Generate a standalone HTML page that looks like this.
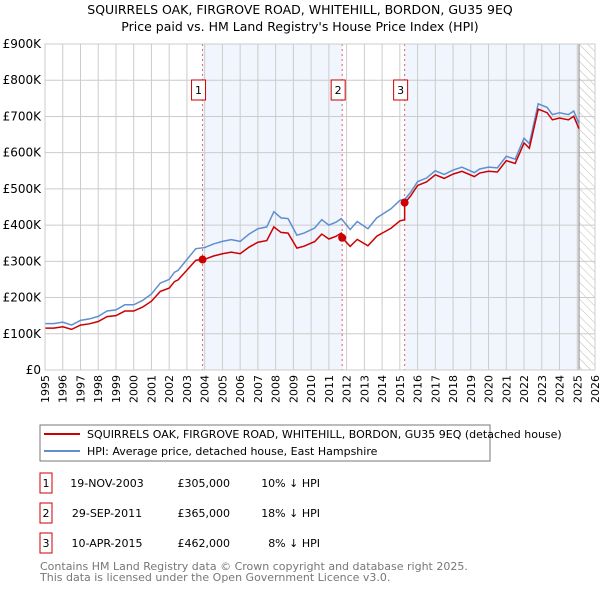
<!DOCTYPE html>
<html><head><meta charset="utf-8"><style>
body{margin:0;background:#fff;font-family:"Liberation Sans","DejaVu Sans",sans-serif}
svg text{font-family:"DejaVu Sans","Liberation Sans",sans-serif}
</style></head><body>
<svg id="c" width="600" height="590">
<defs><pattern id="hatch" width="6" height="6" patternUnits="userSpaceOnUse" patternTransform="rotate(-45)"><line x1="0" y1="0" x2="0" y2="6" stroke="#bbb" stroke-width="1"/></pattern></defs>
<text x="300" y="14" text-anchor="middle" font-size="12.5">SQUIRRELS OAK, FIRGROVE ROAD, WHITEHILL, BORDON, GU35 9EQ</text>
<text x="300" y="31" text-anchor="middle" font-size="12.5">Price paid vs. HM Land Registry's House Price Index (HPI)</text>
<g id="plot"></g>
<rect x="40" y="425" width="450" height="36" fill="#fff" stroke="#777"/>
<line x1="44" y1="434" x2="80" y2="434" stroke="#cc0000" stroke-width="2"/>
<text x="87" y="438" font-size="11">SQUIRRELS OAK, FIRGROVE ROAD, WHITEHILL, BORDON, GU35 9EQ (detached house)</text>
<line x1="44" y1="451" x2="80" y2="451" stroke="#5f8fd0" stroke-width="2"/>
<text x="87" y="455" font-size="11">HPI: Average price, detached house, East Hampshire</text>
<g id="tbl" font-size="11"></g>
<text x="40" y="570" font-size="11" fill="#777">Contains HM Land Registry data © Crown copyright and database right 2025.</text>
<text x="40" y="581" font-size="11" fill="#777">This data is licensed under the Open Government Licence v3.0.</text>
</svg>
<script>
const hpiYears=[1995,1995.5,1996,1996.5,1997,1997.5,1998,1998.5,1999,1999.5,2000,2000.5,2001,2001.5,2002,2002.3,2002.5,2003,2003.5,2004,2004.5,2005,2005.5,2006,2006.5,2007,2007.5,2007.9,2008.3,2008.7,2009.2,2009.6,2010.2,2010.6,2011,2011.4,2011.7,2012.2,2012.6,2013.2,2013.7,2014.5,2015,2015.3,2015.6,2016,2016.5,2017,2017.5,2018,2018.5,2019.2,2019.5,2020,2020.5,2021,2021.5,2022,2022.3,2022.8,2023.3,2023.6,2024,2024.5,2024.8,2025.1];
const hpiValues=[128,128,132,124,137,141,148,163,166,180,180,192,210,240,250,270,275,305,335,338,348,355,360,355,375,390,395,437,420,418,372,378,392,415,400,408,418,388,410,390,420,445,468,472,490,520,530,550,540,552,560,545,555,560,558,590,582,640,625,735,725,705,710,705,715,680];
const saleYears=[2003.88,2011.75,2015.27];
const salePrices=[305,365,462];
const saleLabels=['1','2','3'];
const saleDates=['19-NOV-2003','29-SEP-2011','10-APR-2015'];
const salePriceText=['£305,000','£365,000','£462,000'];
const saleDiffs=['10% ↓ HPI','18% ↓ HPI','8% ↓ HPI'];
const yTicks=[0,100,200,300,400,500,600,700,800,900];
const yTickLabels=['£0','£100K','£200K','£300K','£400K','£500K','£600K','£700K','£800K','£900K'];
const NS='http://www.w3.org/2000/svg';
const X0=45,X1=595,Y0=370,Y1=44,T0=1995,T1=2026,V1=900;
const xs=t=>X0+(t-T0)/(T1-T0)*(X1-X0);
const ys=v=>Y0-v/V1*(Y0-Y1);
const g=document.getElementById('plot');
function mk(tag,attrs,parent){const e=document.createElementNS(NS,tag);for(const k in attrs)e.setAttribute(k,attrs[k]);(parent||g).appendChild(e);return e;}
function hpiAt(t){for(let i=1;i<hpiYears.length;i++){if(t<=hpiYears[i]){const f=(t-hpiYears[i-1])/(hpiYears[i]-hpiYears[i-1]);return hpiValues[i-1]+f*(hpiValues[i]-hpiValues[i-1]);}}return hpiValues[hpiValues.length-1];}
let r=mk('rect',{x:xs(saleYears[0]),y:Y1,width:xs(saleYears[1])-xs(saleYears[0]),height:Y0-Y1,fill:'#eef3fc',opacity:0.8});

const lastT=hpiYears[hpiYears.length-1];
r=mk('rect',{x:xs(saleYears[2]),y:Y1,width:xs(lastT)-xs(saleYears[2]),height:Y0-Y1,fill:'#eef3fc',opacity:0.8});

r=mk('rect',{x:xs(lastT),y:Y1,width:X1-xs(lastT),height:Y0-Y1,fill:'url(#hatch)'});

for(let t=T0;t<=T1;t++){let l=mk('line',{x1:xs(t),x2:xs(t),y1:Y1,y2:Y0,stroke:'#ccc','stroke-width':1});

let tx=mk('text',{x:0,y:0,'font-size':11,'text-anchor':'end',transform:`translate(${xs(t)+4},${Y0+5}) rotate(-90)`});tx.textContent=t;
}
yTicks.forEach((v,i)=>{let l=mk('line',{x1:X0,x2:X1,y1:ys(v),y2:ys(v),stroke:'#ccc','stroke-width':1});

let tx=mk('text',{x:X0-4,y:ys(v)+4,'font-size':12,'text-anchor':'end'});tx.textContent=yTickLabels[i];
});
let vl=mk('line',{x1:xs(lastT),x2:xs(lastT),y1:Y1,y2:Y0,stroke:'#888','stroke-width':1});

saleYears.forEach((t,i)=>{let l=mk('line',{x1:xs(t),x2:xs(t),y1:Y1,y2:Y0,stroke:'#e06060','stroke-width':1,'stroke-dasharray':'2,3'});

let b=mk('rect',{x:xs(t)-11,y:80,width:14,height:20,fill:'#fff',stroke:'#cc0000'});

let tx=mk('text',{x:xs(t)-4,y:94,'font-size':11,'text-anchor':'middle'});tx.textContent=saleLabels[i];
});
let hp=hpiYears.map((t,i)=>xs(t)+','+ys(hpiValues[i])).join(' ');
let hl=mk('polyline',{points:hp,fill:'none',stroke:'#5f8fd0','stroke-width':1.5});

const factors=saleYears.map((t,i)=>salePrices[i]/hpiAt(t));
function fac(t){let f=factors[0];saleYears.forEach((s,i)=>{if(t>=s)f=factors[i];});return f;}
let pts=[];let allT=hpiYears.concat(saleYears).sort((a,b)=>a-b);
allT.forEach(t=>{saleYears.forEach((s,i)=>{if(t===s){const pf=i>0?factors[i-1]:factors[0];pts.push(xs(t)+','+ys(hpiAt(t)*pf));}});pts.push(xs(t)+','+ys(hpiAt(t)*fac(t)));});
let rl=mk('polyline',{points:pts.join(' '),fill:'none',stroke:'#cc0000','stroke-width':1.5});

saleYears.forEach((t,i)=>{let c=mk('circle',{cx:xs(t),cy:ys(salePrices[i]),r:4,fill:'#cc0000'});
});
let fr=mk('rect',{x:X0,y:Y1,width:X1-X0,height:Y0-Y1,fill:'none',stroke:'#ccc'});

const tb=document.getElementById('tbl');
saleYears.forEach((t,i)=>{const y=483+i*30;
let b=mk('rect',{x:40,y:y-10,width:12,height:20,fill:'#fff',stroke:'#cc0000'},tb);

let cells=[[46,saleLabels[i],'middle'],[107,saleDates[i],'middle'],[230,salePriceText[i],'end'],[320,saleDiffs[i],'end']];
cells.forEach(c=>{let tx=mk('text',{x:c[0],y:y+4,'text-anchor':c[2]},tb);tx.textContent=c[1];
});});
</script>
</body></html>
